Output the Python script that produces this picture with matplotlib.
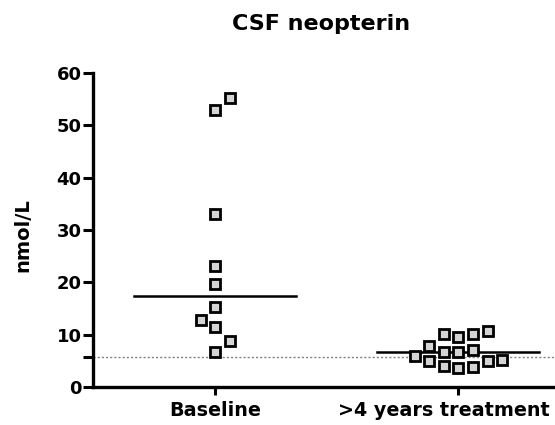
import numpy as np
import matplotlib
matplotlib.use("Agg")
import matplotlib.pyplot as plt
import matplotlib.transforms as mtransforms

plt.rcParams['font.family'] = ['DejaVu Sans']
plt.rcParams['font.weight'] = 'bold'

# Values (nmol/L)
categories = ["Baseline", ">4 years treatment"]
baseline = [55.2, 53.0, 33.0, 23.1, 19.6, 15.2, 12.8, 11.4, 8.8, 6.7]
baseline_dx = [0.06, 0.0, 0.0, 0.0, 0.0, 0.0, -0.06, 0.0, 0.06, 0.0]
treated = [10.2, 9.5, 10.1, 10.7,
           7.75, 6.6, 6.6, 7.1, 6.0,
           5.0, 4.06, 3.6, 3.75, 5.0, 5.2]
treated_dx = [-0.058, 0.0, 0.062, 0.123,
              -0.119, -0.058, 0.0, 0.062, -0.178,
              -0.119, -0.058, 0.0, 0.062, 0.123, 0.183]
ref_level = 5.7  # dotted reference line
title = "CSF neopterin"
ylabel = "nmol/L"

fig = plt.figure(figsize=(5.55, 4.25), dpi=100)
ax = fig.add_axes([0.167, 0.0894, 0.833, 0.739])

groups = [(baseline, baseline_dx), (treated, treated_dx)]
for i, (vals, dx) in enumerate(groups):
    xs = i + np.array(dx)
    ax.plot(xs, vals, linestyle='none', marker='s', markersize=7.5,
            markerfacecolor='#d4d4d4', markeredgecolor='black',
            markeredgewidth=2.0, clip_on=False, zorder=3)
    med = np.median(vals)
    ax.plot([i - 0.333, i + 0.333], [med, med], color='black', lw=1.8, zorder=2)

ax.axhline(ref_level, color='#808080', lw=1.0, ls=(0, (1.5, 1.5)), zorder=1)

ax.set_xlim(-0.505, 1.4)
ax.set_ylim(0, 60)
ax.set_xticks([0, 1])
ax.set_xticklabels(categories, fontsize=13.8, fontweight='bold')
ax.set_yticks([0, 10, 20, 30, 40, 50, 60])
ax.set_yticklabels(["0", "10", "20", "30", "40", "50", "60"], fontsize=13, fontweight='bold')
ax.set_yticks([ref_level], minor=True)
ax.tick_params(axis='x', which='both', length=6, width=2.2, direction='out', pad=4)
ax.tick_params(axis='y', which='both', length=7, width=2.2, direction='out', pad=1)

# long label pulled left so it stays inside the figure
lbl = ax.get_xticklabels()[1]
lbl.set_transform(lbl.get_transform() + mtransforms.ScaledTranslation(-0.14, 0, fig.dpi_scale_trans))

for s in ['top', 'right']:
    ax.spines[s].set_visible(False)
for s in ['left', 'bottom']:
    ax.spines[s].set_linewidth(2.4)

ax.set_ylabel(ylabel, fontsize=14, fontweight='bold')
ax.yaxis.set_label_coords(-0.15, 0.484)
ax.yaxis.label.set_va('center')
fig.text(0.579, 0.929, title, fontsize=16, fontweight='bold', ha='center', va='baseline')

fig.savefig("out.png", dpi=100)
